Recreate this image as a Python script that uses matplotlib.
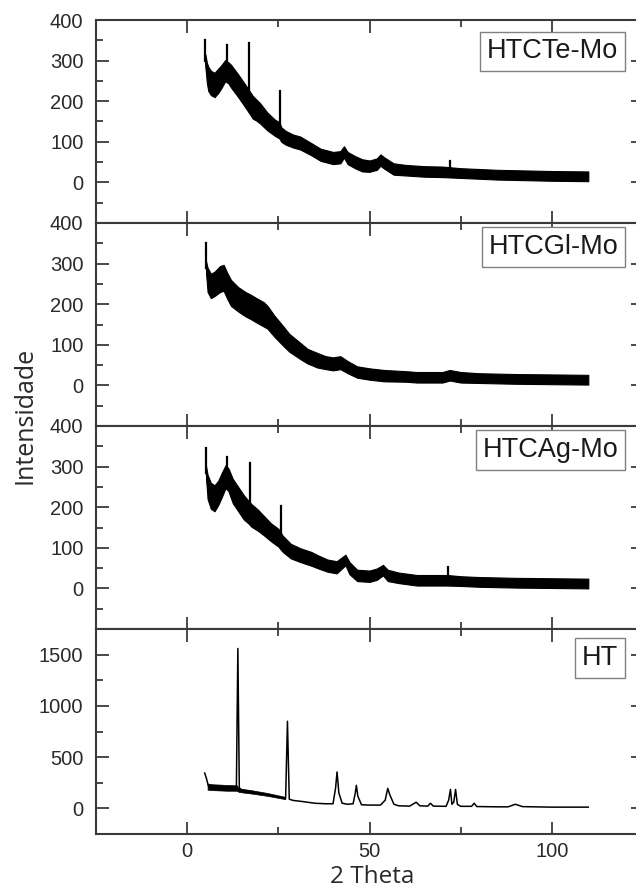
import numpy as np
import matplotlib
matplotlib.use('Agg')
import matplotlib.pyplot as plt
from matplotlib.ticker import MultipleLocator

# ---- data
# noisy traces: 2theta, centre of the trace, half width of the noise band
te_x = [5.0, 5.4, 5.8, 6.5, 7.5, 8.5, 9.5, 10.4, 11.3, 12.0, 13.0, 14.0, 15.0, 16.0, 16.9,
        18.0, 19.0, 20.0, 22.0, 24.0, 25.3, 25.8, 27.0, 29.0, 31.0, 34.0, 36.6,
        40.0, 42.0, 43.0, 44.0, 46.0, 48.0, 50.0, 52.0, 53.0, 54.0, 56.6, 60.0, 65.0, 70.0,
        75.0, 80.0, 85.0, 90.0, 100.0, 110.0]
te_y = [300, 270, 255, 245, 240, 250, 262, 275, 270, 262, 250, 238, 225, 212, 200,
        185, 178, 170, 150, 135, 128, 118, 110, 102, 97, 82, 68,
        60, 62, 75, 60, 50, 42, 40, 45, 55, 48, 33, 30, 27, 26,
        23, 21, 19, 18, 16, 15]
te_w = [15, 25, 30, 30, 30, 30, 28, 26, 26, 28, 28, 28, 28, 28, 28,
        28, 26, 25, 22, 20, 20, 18, 17, 16, 16, 15, 15,
        15, 15, 14, 15, 15, 15, 14, 14, 14, 14, 14, 13, 13, 13,
        12, 12, 12, 12, 12, 12]
te_spk_x = [4.9, 10.9, 17.0, 25.5, 72.1]
te_spk_y = [350, 339, 344, 225, 52]

gl_x = [5.2, 5.6, 6.5, 7.5, 9.0, 10.0, 11.0, 12.0, 14.0, 16.0, 17.5, 19.0, 21.0, 22.0, 24.0,
        26.5, 28.0, 31.0, 33.0, 35.7, 38.0, 40.0, 42.0, 44.0, 46.6, 50.0, 54.0, 60.0, 63.0, 70.0,
        72.0, 75.0, 80.0, 90.0, 100.0, 110.0]
gl_y = [290, 260, 245, 250, 262, 265, 245, 228, 212, 200, 193, 185, 175, 168, 145,
        120, 105, 85, 72, 62, 56, 53, 56, 45, 33, 28, 24, 22, 20, 20,
        25, 20, 18, 16, 15, 14]
gl_w = [15, 30, 30, 30, 32, 32, 32, 32, 30, 30, 30, 30, 30, 28, 26,
        24, 22, 20, 18, 18, 16, 16, 16, 15, 14, 14, 14, 13, 13, 13,
        13, 13, 12, 12, 12, 12]
gl_spk_x = [5.1]
gl_spk_y = [351]

ag_x = [5.2, 5.6, 6.5, 7.5, 8.5, 9.5, 10.5, 11.3, 12.5, 14.0, 15.5, 16.8, 17.6,
        19.4, 21.0, 23.0, 25.0, 26.2, 28.4, 31.0, 34.0, 36.0, 38.5, 41.0, 43.4, 44.5, 46.6,
        50.0, 52.0, 53.7, 55.0, 58.0, 63.0, 68.0, 71.3, 75.0, 80.0, 90.0, 100.0, 110.0]
ag_y = [285, 250, 228, 222, 235, 255, 275, 268, 240, 220, 200, 188, 180,
        168, 155, 138, 125, 110, 92, 82, 73, 65, 56, 52, 70, 50, 32,
        30, 35, 45, 32, 26, 20, 20, 20, 18, 16, 14, 13, 12]
ag_w = [15, 30, 32, 32, 30, 30, 28, 28, 30, 30, 30, 28, 28,
        26, 24, 22, 22, 20, 18, 17, 17, 16, 15, 15, 13, 15, 14,
        14, 14, 13, 14, 13, 13, 13, 13, 12, 12, 12, 12, 12]
ag_spk_x = [5.1, 10.9, 17.2, 25.7, 71.6]
ag_spk_y = [346, 324, 309, 203, 53]

# HT: clean pattern, plus the noise band seen at low angle
ht_x = [4.8, 5.3, 5.8, 7.0, 9.0, 11.0, 12.5, 13.5, 13.9, 14.3, 15.0, 18.0, 20.0, 23.0, 26.0,
        27.0, 27.5, 28.0, 29.0, 32.0, 35.0, 38.0, 40.0, 40.7, 41.1, 41.6, 42.5, 44.0, 45.5,
        46.1, 46.4, 46.8, 47.8, 50.0, 53.0, 54.3, 55.0, 55.6, 56.7, 58.0, 61.0, 62.8, 63.8,
        66.0, 66.7, 67.5, 71.0, 71.7, 72.2, 72.6, 73.1, 73.6, 74.1, 75.0, 78.0, 78.7, 79.4,
        85.0, 88.0, 90.0, 92.0, 100.0, 110.0]
ht_y = [345, 290, 220, 210, 205, 200, 195, 210, 1560, 200, 178, 160, 145, 125, 105,
        100, 850, 90, 78, 65, 50, 45, 45, 200, 355, 150, 50, 40, 45,
        150, 225, 120, 35, 32, 32, 80, 195, 130, 40, 25, 22, 60, 25,
        22, 50, 22, 20, 80, 185, 40, 60, 185, 40, 20, 20, 50, 18,
        15, 15, 40, 17, 12, 12]
ht_band_x = [5.6, 7.0, 9.0, 11.0, 13.6, 14.2, 18.0, 22.0, 26.9]
ht_band_lo = [182, 178, 175, 172, 172, 160, 143, 122, 90]
ht_band_hi = [242, 235, 232, 228, 225, 195, 175, 150, 112]

labels = ['HTCTe-Mo', 'HTCGl-Mo', 'HTCAg-Mo', 'HT']
bands = [(te_x, te_y, te_w), (gl_x, gl_y, gl_w), (ag_x, ag_y, ag_w)]
spikes = [(te_spk_x, te_spk_y), (gl_spk_x, gl_spk_y), (ag_spk_x, ag_spk_y)]

# ---- layout (pixel positions of the panels in the original picture)
W, H = 636, 889
tops = [20, 223, 426, 629]
bots = [223, 426, 629, 834]
left_px, right_px = 96, 643
label_y = [0.845, 0.882, 0.882, 0.858]

spine_c = '#3a3a3a'
tick_font = 'Liberation Sans'
label_font = 'Open Sans'

fig = plt.figure(figsize=(W / 100, H / 100), dpi=100)
fig.patch.set_facecolor('white')

for i in range(4):
    ax = fig.add_axes([left_px / W, 1 - bots[i] / H, (right_px - left_px) / W, (bots[i] - tops[i]) / H])
    if i < 3:
        x, y, w = (np.array(a, dtype=float) for a in bands[i])
        ax.fill_between(x, y - w, y + w, color='black', linewidth=0.8)
        ax.plot(x, y, color='black', linewidth=0.8)
        sx, sy = spikes[i]
        for px_, py_ in zip(sx, sy):
            base = np.interp(px_, x, y)
            ax.plot([px_, px_], [base, py_], color='black', linewidth=1.6)
    else:
        ax.fill_between(ht_band_x, ht_band_lo, ht_band_hi, color='black', linewidth=0.5)
        ax.plot(ht_x, ht_y, color='black', linewidth=1.1)

    ax.set_xlim(-25, 125)
    if i < 3:
        ax.set_ylim(-100, 400)
        ax.set_yticks([0, 100, 200, 300, 400])
        ax.yaxis.set_minor_locator(MultipleLocator(50))
    else:
        ax.set_ylim(-250, 1750)
        ax.set_yticks([0, 500, 1000, 1500])
        ax.yaxis.set_minor_locator(MultipleLocator(250))
    ax.set_xticks([0, 50, 100])
    ax.xaxis.set_minor_locator(MultipleLocator(25))

    ax.tick_params(which='both', direction='in', top=True, right=True, color=spine_c,
                   labelsize=14.5, labelcolor='#2a2a2a', width=1.3)
    ax.tick_params(which='major', length=9)
    ax.tick_params(which='minor', length=5)
    ax.tick_params(axis='y', pad=9)
    ax.tick_params(axis='x', pad=6)
    if i < 3:
        ax.tick_params(axis='x', labelbottom=False)
    for lab in ax.get_xticklabels() + ax.get_yticklabels():
        lab.set_family(tick_font)
    for sp in ax.spines.values():
        sp.set_color(spine_c)
        sp.set_linewidth(1.5)

    ax.text(0.955, label_y[i], labels[i], transform=ax.transAxes, ha='right', va='center',
            fontsize=19.5, family=tick_font, color='#1a1a1a',
            bbox=dict(boxstyle='square,pad=0.25', facecolor='white', edgecolor='#808080', linewidth=1.0))

fig.text(25 / W, 1 - 415 / H, 'Intensidade', rotation=90, ha='center', va='center',
         fontsize=18, family=label_font, color='#2a2a2a')
fig.text(372 / W, 1 - 877 / H, '2 Theta', ha='center', va='center',
         fontsize=17.5, family=label_font, color='#2a2a2a')

fig.savefig('out.png', dpi=100)
